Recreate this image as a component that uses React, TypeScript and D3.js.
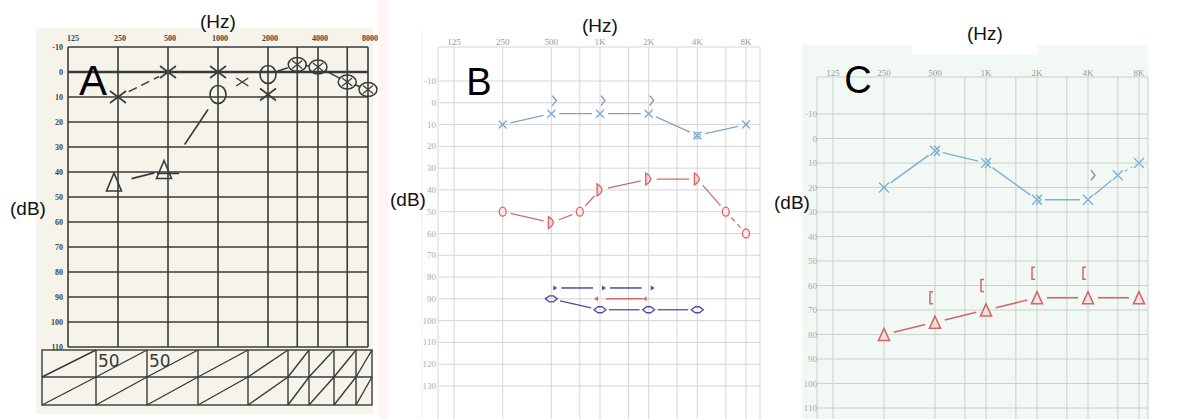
import * as d3 from "d3";

// frequency positions
const TOP_HZ = [125, 250, 500, 1000, 2000, 4000, 8000];
const TOP_LABELS_A = ["125", "250", "500", "1000", "2000", "4000", "8000"];
const TOP_LABELS_BC = ["125", "250", "500", "1K", "2K", "4K", "8K"];
const GRID_HZ_A = [125, 250, 500, 1000, 2000, 3000, 4000, 6000, 8000];
const GRID_HZ_BC = [125, 250, 500, 750, 1000, 1500, 2000, 3000, 4000, 6000, 8000];

const DB_A = [-10, 0, 10, 20, 30, 40, 50, 60, 70, 80, 90, 100, 110];
const DB_B = [-10, 0, 10, 20, 30, 40, 50, 60, 70, 80, 90, 100, 110, 120, 130];
const DB_C = [-10, 0, 10, 20, 30, 40, 50, 60, 70, 80, 90, 100, 110];

// audiogram A
const aLeftHz = [250, 500, 1000, 2000];
const aLeftDb = [10, 0, 0, 9];
const aSmallXHz = [1400];
const aSmallXDb = [4];
const aRightHz = [1000, 2000];
const aRightDb = [9, 1];
const aCrossHz = [3000, 4000, 6000, 8000];
const aCrossDb = [-3, -2, 4, 7];
const aBoneHz = [250, 500];
const aBoneDb = [44, 39];
const aTableTop = ["", "50", "50", "", "", "", "", "", ""];

// audiogram B
const bLeftHz = [250, 500, 1000, 2000, 4000, 8000];
const bLeftDb = [10, 5, 5, 5, 15, 10];
const bBoneHz = [500, 1000, 2000];
const bBoneDb = [-1, -1, -1];
const bRightHz = [250, 500, 750, 1000, 2000, 4000, 6000, 8000];
const bRightDb = [50, 55, 50, 40, 35, 35, 50, 60];
const bRightSym = ["O", "D", "O", "D", "D", "D", "O", "O"];
const bLowHz = [500, 1000, 2000, 4000];
const bLowDb = [90, 95, 95, 95];
const bMaskBlueHz = [500, 1000, 2000];
const bMaskBlueDb = [85, 85, 85];
const bMaskRedHz = [1000, 2000];
const bMaskRedDb = [90, 90];

// audiogram C
const cLeftHz = [250, 500, 1000, 2000, 4000, 6000, 8000];
const cLeftDb = [20, 5, 10, 25, 25, 15, 10];
const cBoneHz = [4000];
const cBoneDb = [15];
const cTriHz = [250, 500, 1000, 2000, 4000, 8000];
const cTriDb = [80, 75, 70, 65, 65, 65];
const cBracketHz = [500, 1000, 2000, 4000];
const cBracketDb = [65, 60, 55, 55];

function trim(x1: number, y1: number, x2: number, y2: number, t1: number, t2: number) {
  const dx = x2 - x1, dy = y2 - y1, L = Math.hypot(dx, dy) || 1;
  return { x1: x1 + (dx * t1) / L, y1: y1 + (dy * t1) / L, x2: x2 - (dx * t2) / L, y2: y2 - (dy * t2) / L };
}

function crossPath(x: number, y: number, sx: number, sy: number) {
  return `M${x - sx},${y - sy}L${x + sx},${y + sy}M${x - sx},${y + sy}L${x + sx},${y - sy}`;
}

function triPath(x: number, y: number, w: number, h: number) {
  return `M${x},${y - h / 2}L${x + w / 2},${y + h / 2}L${x - w / 2},${y + h / 2}Z`;
}

function PanelA() {
  const x = d3.scaleLog().base(2).domain([125, 8000]).range([68, 368]);
  const y = d3.scaleLinear().domain([-10, 110]).range([47, 347]);
  const ink = "#3a3a3a";
  const tblX0 = 42, tblX1 = 372, tblY0 = 350, tblY1 = 405, tblMid = 377;
  const colW = [54, 51, 51, 50, 40, 21, 25, 22, 16];
  const colEdges = colW.reduce((acc, w) => { acc.push(acc[acc.length - 1] + w * (tblX1 - tblX0) / d3.sum(colW)); return acc; }, [tblX0]);

  const segs: any[] = [];
  const addSeg = (hz1: number, d1: number, hz2: number, d2: number, t1: number, t2: number, dash?: string) => {
    const s = trim(x(hz1), y(d1), x(hz2), y(d2), t1, t2);
    segs.push(<line key={segs.length} {...s} stroke={ink} strokeWidth={1.6} strokeDasharray={dash} />);
  };
  addSeg(aLeftHz[0], aLeftDb[0], aLeftHz[1], aLeftDb[1], 12, 10, "9,5");
  addSeg(aLeftHz[1], aLeftDb[1], aLeftHz[2], aLeftDb[2], 16, 18);
  addSeg(aBoneHz[0], aBoneDb[0], aBoneHz[1], aBoneDb[1], 14, 14);
  addSeg(aBoneHz[1], aBoneDb[1], aRightHz[0], aRightDb[0], 30, 18);
  addSeg(aRightHz[1], aRightDb[1], aCrossHz[0], aCrossDb[0], 10, 10);
  for (let i = 0; i < aCrossHz.length - 1; i++) addSeg(aCrossHz[i], aCrossDb[i], aCrossHz[i + 1], aCrossDb[i + 1], 8, 8);

  return (
    <g>
      <rect x={36} y={28} width={337} height={386} fill="#f6f3ea" />
      <text x={218} y={28} fontSize={19} textAnchor="middle" fill="#111">(Hz)</text>
      <text x={28} y={215} fontSize={19} textAnchor="middle" fill="#111">(dB)</text>
      {GRID_HZ_A.map((f) => (
        <line key={f} x1={x(f)} x2={x(f)} y1={y(-10)} y2={y(110)} stroke={ink} strokeWidth={1.6} />
      ))}
      {DB_A.map((d) => (
        <line key={d} x1={x(125)} x2={x(8000)} y1={y(d)} y2={y(d)} stroke={ink} strokeWidth={d === 0 ? 2.4 : 1.5} />
      ))}
      {TOP_HZ.map((f, i) => (
        <text key={f} x={x(f) + (i === 0 ? 5 : 2)} y={41} fontSize={8} fontWeight="bold" textAnchor="middle" fill="#444" fontFamily="Liberation Serif, serif">{TOP_LABELS_A[i]}</text>
      ))}
      {DB_A.map((d) => (
        <text key={d} x={63} y={y(d) + 3} fontSize={8} fontWeight="bold" textAnchor="end" fill="#444" fontFamily="Liberation Serif, serif">{d}</text>
      ))}
      <text x={93} y={95} fontSize={42} textAnchor="middle" fill="#000">A</text>
      {segs}
      {aLeftHz.map((f, i) => (
        <path key={f} d={crossPath(x(f), y(aLeftDb[i]), 8, 6)} stroke={ink} strokeWidth={1.6} fill="none" />
      ))}
      {aSmallXHz.map((f, i) => (
        <path key={f} d={crossPath(x(f), y(aSmallXDb[i]), 6, 4)} stroke={ink} strokeWidth={1.4} fill="none" />
      ))}
      {aRightHz.map((f, i) => (
        <ellipse key={f} cx={x(f)} cy={y(aRightDb[i])} rx={8} ry={9} stroke={ink} strokeWidth={1.6} fill="none" />
      ))}
      {aCrossHz.map((f, i) => (
        <g key={f}>
          <ellipse cx={x(f)} cy={y(aCrossDb[i])} rx={9} ry={7} stroke={ink} strokeWidth={1.5} fill="none" />
          <path d={crossPath(x(f), y(aCrossDb[i]), 5, 4)} stroke={ink} strokeWidth={1.2} fill="none" />
        </g>
      ))}
      {aBoneHz.map((f, i) => (
        <g key={f}>
          <path d={triPath(x(f) - 4, y(aBoneDb[i]), 15, 18)} stroke={ink} strokeWidth={1.6} fill="none" />
          {i === 1 && <path d={`M${x(f) - 11},${y(aBoneDb[i]) + 4}H${x(f) + 11}`} stroke={ink} strokeWidth={1.5} />}
        </g>
      ))}
      <g stroke={ink} strokeWidth={1.4} fill="none">
        <rect x={tblX0} y={tblY0} width={tblX1 - tblX0} height={tblY1 - tblY0} />
        <line x1={tblX0} x2={tblX1} y1={tblMid} y2={tblMid} />
        {colEdges.slice(1, -1).map((e, i) => (
          <line key={i} x1={e} x2={e} y1={tblY0} y2={tblY1} />
        ))}
        {colW.map((_, i) => (
          <g key={i}>
            <line x1={colEdges[i]} y1={tblMid} x2={colEdges[i + 1]} y2={tblY0} />
            <line x1={colEdges[i]} y1={tblY1} x2={colEdges[i + 1]} y2={tblMid} />
          </g>
        ))}
      </g>
      {aTableTop.map((t, i) => t && (
        <text key={i} x={colEdges[i] + 2} y={tblY0 + 17} fontSize={17} fill={ink} fontFamily="DejaVu Sans, sans-serif">{t}</text>
      ))}
    </g>
  );
}

function PanelB() {
  const x = d3.scaleLog().base(2).domain([125, 8000]).range([454, 746]);
  const y = d3.scaleLinear().domain([-10, 130]).range([81, 386]);
  const grid = "#d6d6d6";
  const blue = "#7ba6cc";
  const red = "#cf6b6b";
  const navy = "#4a4ea6";
  const left = 438, right = 760, top = 47, bottom = 419;
  const redDash = [false, false, false, false, false, false, true];
  return (
    <g>
      <rect x={378} y={0} width={10} height={419} fill="#fdf4f4" />
      <line x1={422} x2={422} y1={30} y2={bottom} stroke="#f0f0f0" />
      <text x={600} y={32} fontSize={19} textAnchor="middle" fill="#111">(Hz)</text>
      <text x={408} y={206} fontSize={19} textAnchor="middle" fill="#111">(dB)</text>
      {[left, right].map((v) => (
        <line key={v} x1={v} x2={v} y1={top} y2={bottom} stroke={grid} />
      ))}
      <line x1={left} x2={right} y1={top} y2={top} stroke={grid} />
      {GRID_HZ_BC.map((f) => (
        <line key={f} x1={x(f)} x2={x(f)} y1={top} y2={bottom} stroke={grid} />
      ))}
      {DB_B.map((d) => (
        <line key={d} x1={left} x2={right} y1={y(d)} y2={y(d)} stroke={grid} />
      ))}
      {TOP_HZ.map((f, i) => (
        <text key={f} x={x(f)} y={45} fontSize={9} textAnchor="middle" fill="#999" fontFamily="Liberation Serif, serif">{TOP_LABELS_BC[i]}</text>
      ))}
      {DB_B.map((d) => (
        <text key={d} x={436} y={y(d) + 3} fontSize={9} textAnchor="end" fill="#aaa" fontFamily="Liberation Serif, serif">{d}</text>
      ))}
      <text x={479} y={95} fontSize={38} textAnchor="middle" fill="#000">B</text>
      {/* left air */}
      {bLeftHz.slice(1).map((f, i) => (
        <line key={f} {...trim(x(bLeftHz[i]), y(bLeftDb[i]), x(f), y(bLeftDb[i + 1]), 8, 8)} stroke={blue} strokeWidth={1.3} />
      ))}
      {bLeftHz.map((f, i) => (
        <g key={f}>
          <path d={crossPath(x(f), y(bLeftDb[i]), 4, 4)} stroke={blue} strokeWidth={1.3} fill="none" />
          {bLeftHz[i] === 4000 && <circle cx={x(f)} cy={y(bLeftDb[i])} r={3} stroke={blue} fill="none" />}
        </g>
      ))}
      {bBoneHz.map((f, i) => (
        <path key={f} d={`M${x(f) + 1},${y(bBoneDb[i]) - 5}L${x(f) + 5},${y(bBoneDb[i])}L${x(f) + 1},${y(bBoneDb[i]) + 5}`} stroke="#8a8ab0" strokeWidth={1.2} fill="none" />
      ))}
      {/* right air / masked */}
      {bRightHz.slice(1).map((f, i) => (
        <line key={f} {...trim(x(bRightHz[i]), y(bRightDb[i]), x(f), y(bRightDb[i + 1]), 8, 8)} stroke={red} strokeWidth={1.3} strokeDasharray={redDash[i] ? "5,4" : undefined} />
      ))}
      {bRightHz.map((f, i) => {
        const cx = x(f), cy = y(bRightDb[i]);
        return bRightSym[i] === "O" ? (
          <ellipse key={f} cx={cx} cy={cy} rx={3.5} ry={4.5} stroke={red} strokeWidth={1.3} fill="#fbe6e6" />
        ) : (
          <path key={f} d={`M${cx - 3},${cy - 6}L${cx - 3},${cy + 6}Q${cx + 7},${cy} ${cx - 3},${cy - 6}Z`} stroke={red} strokeWidth={1.3} fill="#f6cfcf" />
        );
      })}
      {/* masking arrows */}
      {bMaskBlueHz.map((f, i) => (
        <g key={f}>
          <path d={`M${x(f) + 2},${y(bMaskBlueDb[i]) - 2.5}L${x(f) + 6},${y(bMaskBlueDb[i])}L${x(f) + 2},${y(bMaskBlueDb[i]) + 2.5}Z`} fill={navy} />
          {i < bMaskBlueHz.length - 1 && (
            <line x1={x(f) + 10} x2={x(bMaskBlueHz[i + 1]) - 7} y1={y(bMaskBlueDb[i])} y2={y(bMaskBlueDb[i + 1])} stroke={navy} strokeWidth={1.5} />
          )}
        </g>
      ))}
      {bMaskRedHz.map((f, i) => (
        <g key={f}>
          <path d={`M${x(f) - 2},${y(bMaskRedDb[i]) - 2.5}L${x(f) - 6},${y(bMaskRedDb[i])}L${x(f) - 2},${y(bMaskRedDb[i]) + 2.5}Z`} fill={red} />
          {i < bMaskRedHz.length - 1 && (
            <line x1={x(f) + 6} x2={x(bMaskRedHz[i + 1]) - 6} y1={y(bMaskRedDb[i])} y2={y(bMaskRedDb[i + 1])} stroke={red} strokeWidth={1.5} />
          )}
        </g>
      ))}
      {bLowHz.slice(1).map((f, i) => (
        <line key={f} {...trim(x(bLowHz[i]), y(bLowDb[i]), x(f), y(bLowDb[i + 1]), 9, 9)} stroke={navy} strokeWidth={1.3} />
      ))}
      {bLowHz.map((f, i) => {
        const cx = x(f), cy = y(bLowDb[i]);
        return (
          <g key={f} stroke={navy} strokeWidth={1.3} fill="none">
            <path d={`M${cx - 6},${cy}L${cx - 2},${cy - 3}L${cx + 2},${cy - 3}L${cx + 6},${cy}L${cx + 2},${cy + 3}L${cx - 2},${cy + 3}Z`} />
          </g>
        );
      })}
    </g>
  );
}

function PanelC() {
  const x = d3.scaleLog().base(2).domain([125, 8000]).range([833, 1139]);
  const y = d3.scaleLinear().domain([-10, 110]).range([114, 408]);
  const grid = "#c9d2cd";
  const blue = "#7db0d4";
  const red = "#d06868";
  const left = 817, right = 1148, top = 77, bottom = 419;
  return (
    <g>
      <rect x={802} y={45} width={346} height={374} fill="#f2f8f4" />
      <rect x={912} y={37} width={126} height={18} fill="#ffffff" />
      <text x={985} y={40} fontSize={19} textAnchor="middle" fill="#111">(Hz)</text>
      <text x={792} y={209} fontSize={19} textAnchor="middle" fill="#111">(dB)</text>
      {[left, right].map((v) => (
        <line key={v} x1={v} x2={v} y1={top} y2={bottom} stroke={grid} />
      ))}
      <line x1={left} x2={right} y1={top} y2={top} stroke={grid} />
      {GRID_HZ_BC.map((f) => (
        <line key={f} x1={x(f)} x2={x(f)} y1={top} y2={bottom} stroke={grid} />
      ))}
      {DB_C.map((d) => (
        <line key={d} x1={left} x2={right} y1={y(d)} y2={y(d)} stroke={grid} />
      ))}
      {TOP_HZ.map((f, i) => (
        <text key={f} x={x(f)} y={76} fontSize={9} textAnchor="middle" fill="#999" fontFamily="Liberation Serif, serif">{TOP_LABELS_BC[i]}</text>
      ))}
      {DB_C.map((d) => (
        <text key={d} x={817} y={y(d) + 3} fontSize={9} textAnchor="end" fill="#aaa" fontFamily="Liberation Serif, serif">{d}</text>
      ))}
      <text x={858} y={93} fontSize={38} textAnchor="middle" fill="#000">C</text>
      {cLeftHz.slice(1).map((f, i) => (
        <line key={f} {...trim(x(cLeftHz[i]), y(cLeftDb[i]), x(f), y(cLeftDb[i + 1]), 8, 8)} stroke={blue} strokeWidth={1.4} strokeDasharray={i === cLeftHz.length - 2 ? "3,4" : undefined} />
      ))}
      {cLeftHz.map((f, i) => (
        <g key={f} stroke={blue} strokeWidth={1.4} fill="none">
          <path d={crossPath(x(f), y(cLeftDb[i]), 5, 5)} />
          {f >= 500 && f <= 2000 && <path d={`M${x(f) - 1},${y(cLeftDb[i]) - 5}L${x(f) + 4},${y(cLeftDb[i])}L${x(f) - 1},${y(cLeftDb[i]) + 5}`} />}
        </g>
      ))}
      {cBoneHz.map((f, i) => (
        <path key={f} d={`M${x(f) + 3},${y(cBoneDb[i]) - 5}L${x(f) + 7},${y(cBoneDb[i])}L${x(f) + 3},${y(cBoneDb[i]) + 5}`} stroke="#8a8aa8" strokeWidth={1.3} fill="none" />
      ))}
      {cTriHz.slice(1).map((f, i) => (
        <line key={f} {...trim(x(cTriHz[i]), y(cTriDb[i]), x(f), y(cTriDb[i + 1]), 10, 10)} stroke={red} strokeWidth={1.6} />
      ))}
      {cTriHz.map((f, i) => (
        <path key={f} d={triPath(x(f), y(cTriDb[i]), 11, 12)} stroke={red} strokeWidth={1.6} fill="#f3dede" />
      ))}
      {cBracketHz.map((f, i) => (
        <path key={f} d={`M${x(f) - 2},${y(cBracketDb[i]) - 6}H${x(f) - 5}V${y(cBracketDb[i]) + 6}H${x(f) - 2}`} stroke={red} strokeWidth={1.5} fill="none" />
      ))}
    </g>
  );
}

export default function App() {
  return (
    <svg width={1190} height={419} style={{ position: "absolute", left: 0, top: 0, background: "#fff" }} fontFamily="Liberation Sans, Arial, sans-serif">
      <PanelA />
      <PanelB />
      <PanelC />
    </svg>
  );
}
